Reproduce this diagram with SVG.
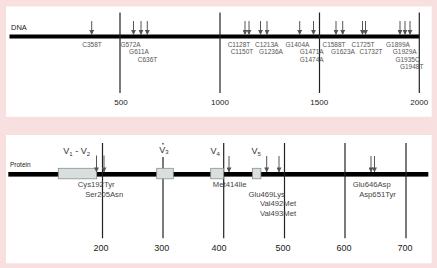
<svg xmlns="http://www.w3.org/2000/svg" width="437" height="268" viewBox="0 0 437 268">
<defs>
<style>
.bg{fill:#f9e0e0}
.panel{fill:#ffffff}
.bar{fill:#000000}
.scale{stroke:#222;stroke-width:1.2;fill:none}
.mut{stroke:#555;stroke-width:1;fill:none;marker-end:url(#ah)}
.box{fill:#d9dede;stroke:#8a8f8f;stroke-width:0.8}
text{font-family:"Liberation Sans",Arial,sans-serif}
.title{font-size:7.5px;fill:#222}
.ptitle{font-size:6.5px;fill:#222}
.dl{font-size:6.5px;fill:#555;text-anchor:middle}
.pl{font-size:7.7px;fill:#444;text-anchor:middle}
.num{font-size:8px;fill:#222;text-anchor:middle}
.pnum{font-size:9px;fill:#222;text-anchor:middle}
.vl{font-size:9px;fill:#333}
.sub{font-size:6px}
</style>
<marker id="ah" markerWidth="5" markerHeight="5" refX="4.6" refY="2.5" orient="auto" markerUnits="userSpaceOnUse">
<path d="M0,0 L5,2.5 L0,5 z" fill="#555"/>
</marker>
</defs>
<rect class="bg" x="0" y="0" width="437" height="268"/>
<rect class="panel" x="6" y="6.5" width="425.7" height="110.3"/>
<rect class="panel" x="6" y="135" width="425.7" height="128.3"/>

<g id="dna-track">
<text class="title" x="11" y="30">DNA</text>
<rect class="bar" x="9.5" y="34.5" width="410" height="4"/>
</g>

<g id="dna-scale">
<line class="scale" x1="120" y1="12.5" x2="120" y2="93"/>
<line class="scale" x1="220" y1="12.5" x2="220" y2="93"/>
<line class="scale" x1="319.5" y1="12.5" x2="319.5" y2="93"/>
<line class="scale" x1="419.3" y1="12.5" x2="419.3" y2="93"/>
<text class="num" x="121" y="105">500</text>
<text class="num" x="220" y="105">1000</text>
<text class="num" x="319.2" y="105">1500</text>
<text class="num" x="419.2" y="105">2000</text>
</g>

<g id="dna-labels">
<text class="dl" x="92" y="46.5">C358T</text>
<text class="dl" x="130.5" y="46.5">G572A</text>
<text class="dl" x="139" y="54">G611A</text>
<text class="dl" x="147.5" y="61.5">C636T</text>
<text class="dl" x="239" y="46.5">C1128T</text>
<text class="dl" x="242" y="54">C1150T</text>
<text class="dl" x="266.7" y="46.5">C1213A</text>
<text class="dl" x="271" y="54">G1236A</text>
<text class="dl" x="297.5" y="46.5">G1404A</text>
<text class="dl" x="311.7" y="54">G1471A</text>
<text class="dl" x="311.7" y="61.5">G1474A</text>
<text class="dl" x="334" y="46.5">C1588T</text>
<text class="dl" x="343" y="54">G1623A</text>
<text class="dl" x="363" y="46.5">C1725T</text>
<text class="dl" x="371" y="54">C1732T</text>
<text class="dl" x="398" y="46.5">G1899A</text>
<text class="dl" x="404.7" y="54">G1929A</text>
<text class="dl" x="407.5" y="61.5">G1935C</text>
<text class="dl" x="411.7" y="69">G1948T</text>
</g>

<g id="protein-track">
<text class="ptitle" x="10" y="166.5">Protein</text>
<rect class="bar" x="8.3" y="172" width="420" height="4.6"/>
</g>

<g id="protein-scale">
<line class="scale" x1="102.5" y1="143" x2="102.5" y2="238.3"/>
<line class="scale" x1="163" y1="143" x2="163" y2="238.3"/>
<line class="scale" x1="223.7" y1="143" x2="223.7" y2="238.3"/>
<line class="scale" x1="284.5" y1="143" x2="284.5" y2="238.3"/>
<line class="scale" x1="345" y1="143" x2="345" y2="238.3"/>
<line class="scale" x1="406" y1="143" x2="406" y2="238.3"/>
<text class="pnum" x="101" y="251">200</text>
<text class="pnum" x="161.7" y="251">300</text>
<text class="pnum" x="219" y="251">400</text>
<text class="pnum" x="283" y="251">500</text>
<text class="pnum" x="344" y="251">600</text>
<text class="pnum" x="405" y="251">700</text>
</g>

<g id="domain-v1-v2">
<rect class="box" x="58.3" y="168.3" width="38.4" height="10.5"/>
<text class="vl" x="63.3" y="154">V<tspan class="sub" dy="1.5">1</tspan><tspan dy="-1.5"> - V</tspan><tspan class="sub" dy="1.5">2</tspan></text>
</g>
<g id="domain-v3">
<rect class="box" x="156.7" y="168.3" width="16.6" height="10.5"/>
<rect fill="#ffffff" x="158" y="144.5" width="12" height="12.5"/>
<text class="vl" x="159.3" y="152.5">V<tspan class="sub" dy="1.5">3</tspan></text>
</g>
<g id="domain-v4">
<rect class="box" x="210.7" y="168.3" width="12.8" height="10.5"/>
<text class="vl" x="210.5" y="154">V<tspan class="sub" dy="1.5">4</tspan></text>
</g>
<g id="domain-v5">
<rect class="box" x="252.5" y="168.3" width="8.4" height="10.5"/>
<text class="vl" x="251.5" y="154">V<tspan class="sub" dy="1.5">5</tspan></text>
</g>

<g id="protein-labels">
<text class="pl" x="96.2" y="186.7">Cys192Tyr</text>
<text class="pl" x="104.2" y="196.5">Ser205Asn</text>
<text class="pl" x="229.7" y="186.7">Met414Ile</text>
<text class="pl" x="266.7" y="196.5">Glu469Lys</text>
<text class="pl" x="278" y="206">Val492Met</text>
<text class="pl" x="278" y="215.5">Val493Met</text>
<text class="pl" x="371.7" y="186.7">Glu646Asp</text>
<text class="pl" x="377.5" y="196.5">Asp651Tyr</text>
</g>

<g id="connectors">
<line class="mut" x1="91.7" y1="21" x2="91.7" y2="34.5"/>
<line class="mut" x1="133.5" y1="21" x2="133.5" y2="34.5"/>
<line class="mut" x1="141" y1="21" x2="141" y2="34.5"/>
<line class="mut" x1="147.3" y1="21" x2="147.3" y2="34.5"/>
<line class="mut" x1="245" y1="21" x2="245" y2="34.5"/>
<line class="mut" x1="249" y1="21" x2="249" y2="34.5"/>
<line class="mut" x1="260.5" y1="21" x2="260.5" y2="34.5"/>
<line class="mut" x1="267" y1="21" x2="267" y2="34.5"/>
<line class="mut" x1="299.7" y1="21" x2="299.7" y2="34.5"/>
<line class="mut" x1="313.5" y1="21" x2="313.5" y2="34.5"/>
<line class="mut" x1="336" y1="21" x2="336" y2="34.5"/>
<line class="mut" x1="342.7" y1="21" x2="342.7" y2="34.5"/>
<line class="mut" x1="362.5" y1="21" x2="362.5" y2="34.5"/>
<line class="mut" x1="365.5" y1="21" x2="365.5" y2="34.5"/>
<line class="mut" x1="400" y1="21" x2="400" y2="34.5"/>
<line class="mut" x1="405" y1="21" x2="405" y2="34.5"/>
<line class="mut" x1="410" y1="21" x2="410" y2="34.5"/>
<line class="mut" x1="96.5" y1="155.5" x2="96.5" y2="172"/>
<line class="mut" x1="104" y1="155.5" x2="104" y2="172"/>
<line class="mut" x1="229" y1="156" x2="229" y2="172"/>
<line class="mut" x1="266.7" y1="156" x2="266.7" y2="172"/>
<line class="mut" x1="279" y1="156" x2="279" y2="172"/>
<line class="mut" x1="371" y1="156" x2="371" y2="172"/>
<line class="mut" x1="374.5" y1="156" x2="374.5" y2="172"/>
</g>
</svg>
